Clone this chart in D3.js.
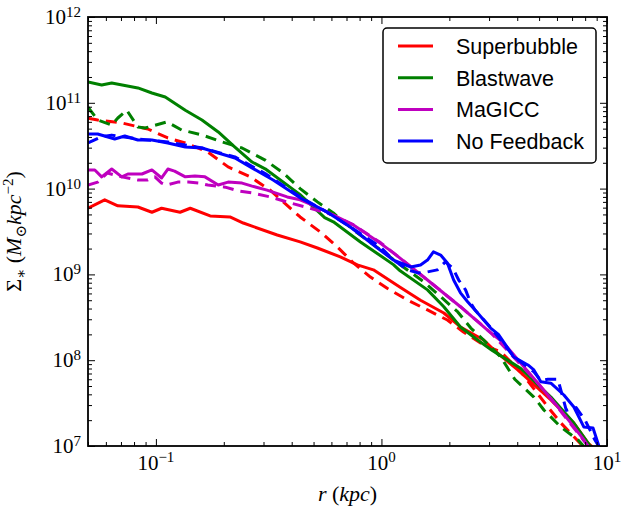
<!DOCTYPE html>
<html>
<head>
<meta charset="utf-8">
<script src="https://cdn.jsdelivr.net/npm/d3@7"></script>
<style>
  body { margin: 0; background: #fff; }
  svg { display: block; }
  .serif { font-family: 'Liberation Serif', 'DejaVu Serif', serif; fill: #000; }
  .legend-text { font-family: 'Liberation Sans', Arial, sans-serif; font-size: 21.5px; fill: #000; }
  .tick line { stroke: #000; stroke-width: 1; }
</style>
</head>
<body>
<div id="chart"></div>
<script>
// Plot constants
let width = 622
let height = 510
let margin = {t: 17, r: 15, b: 64, l: 88}
let plotW = width - margin.l - margin.r
let plotH = height - margin.t - margin.b

// Radius (kpc) and surface density (Msun / kpc^2)
// Superbubble
let sbSolid = [[0.05,5.9e9],[0.0593,7.4e9],[0.0678,6.3e9],[0.0832,6.1e9],[0.096,5.3e9],[0.106,5.9e9],[0.128,5.3e9],[0.142,5.9e9],[0.174,4.8e9],[0.213,4.67e9],[0.244,3.97e9],[0.345,2.88e9],[0.436,2.39e9],[0.52,2.03e9],[0.657,1.6e9],[0.782,1.29e9],[0.921,1.13e9],[1.21,7.1e8],[1.49,5.0e8],[1.89,3.55e8],[2.24,2.44e8],[2.84,1.72e8],[3.15,1.32e8],[4.02,7.7e7],[5.64,3.44e7],[7.13,1.85e7],[8.24,1.08e7],[8.93,9.0e6]]
let sbDashed = [[0.05,6.6e10],[0.0552,6.3e10],[0.0706,5.82e10],[0.0921,4.95e10],[0.113,3.89e10],[0.135,3.4e10],[0.17,2.67e10],[0.209,1.79e10],[0.262,1.37e10],[0.321,9.6e9],[0.367,7.0e9],[0.436,4.67e9],[0.536,3.12e9],[0.637,2.09e9],[0.751,1.36e9],[0.894,9.3e8],[1.06,6.9e8],[1.31,5.0e8],[1.6,3.85e8],[1.96,2.94e8],[2.31,2.13e8],[2.84,1.5e8],[3.38,1.25e8],[4.15,7.3e7],[5.47,2.85e7],[6.25,1.85e7],[7.9,9.7e6],[8.2,9e6]]
// Blastwave
let bwSolid = [[0.05,1.75e11],[0.0575,1.61e11],[0.0637,1.7e11],[0.0832,1.49e11],[0.096,1.3e11],[0.11,1.17e11],[0.135,8.2e10],[0.16,6.3e10],[0.189,4.57e10],[0.224,3.05e10],[0.267,2.04e10],[0.305,1.7e10],[0.436,8.5e9],[0.56,4.6e9],[0.612,4.1e9],[0.807,2.39e9],[1.13,1.3e9],[1.21,1.1e9],[1.6,6.6e8],[1.89,4.2e8],[2.24,2.44e8],[2.67,1.72e8],[3.1,1.3e8],[4.15,8.0e7],[5.64,3.72e7],[7.13,1.85e7],[8.49,9.7e6],[8.7,9e6]]
let bwDashed = [[0.05,8.9e10],[0.0552,6.3e10],[0.0637,5.51e10],[0.0678,6.65e10],[0.0743,8.2e10],[0.0832,5.22e10],[0.0894,5.08e10],[0.112,5.98e10],[0.13,4.82e10],[0.16,4.22e10],[0.197,3.49e10],[0.241,2.97e10],[0.305,2.15e10],[0.367,1.52e10],[0.436,1.0e10],[0.52,7.0e9],[0.612,5.2e9],[0.75,3.3e9],[1.0,1.9e9],[1.25,1.22e9],[1.54,8.2e8],[1.83,5.5e8],[2.18,3.65e8],[2.49,2.37e8],[2.84,1.72e8],[3.38,1.09e8],[3.9,6.0e7],[4.74,3.72e7],[5.25,2.63e7],[6.25,1.66e7],[7.43,1.18e7],[8.0,9.5e6],[8.3,9e6]]
// MaGICC
let mgSolid = [[0.05,1.65e10],[0.0536,1.65e10],[0.0575,1.37e10],[0.0637,1.69e10],[0.0706,1.37e10],[0.0751,1.48e10],[0.0867,1.48e10],[0.096,1.65e10],[0.106,1.33e10],[0.113,1.69e10],[0.121,1.6e10],[0.135,1.37e10],[0.149,1.4e10],[0.165,1.37e10],[0.189,1.1e10],[0.209,1.19e10],[0.241,1.16e10],[0.267,1.07e10],[0.311,9.6e9],[0.382,8.0e9],[0.436,7.4e9],[0.52,6.1e9],[0.612,4.9e9],[0.751,3.77e9],[0.99,2.3e9],[1.13,1.78e9],[1.6,8.6e8],[2.24,4.2e8],[3.05,2.08e8],[3.48,1.59e8],[4.94,5.4e7],[6.06,2.85e7],[6.92,1.85e7],[7.9,1.18e7],[8.3,9.5e6]]
let mgDashed = [[0.05,1.1e10],[0.0552,1.19e10],[0.061,1.52e10],[0.0706,1.37e10],[0.0832,1.26e10],[0.0921,1.26e10],[0.099,1.37e10],[0.106,1.16e10],[0.111,1.1e10],[0.125,1.19e10],[0.139,1.19e10],[0.155,1.16e10],[0.17,1.1e10],[0.203,1.04e10],[0.232,9.4e9],[0.267,8.9e9],[0.321,8.0e9],[0.394,6.8e9],[0.483,5.9e9],[0.612,4.9e9],[0.751,3.77e9],[0.99,2.35e9],[1.6,8.6e8],[2.24,4.2e8],[3.05,2.1e8],[4.94,5.4e7],[6.06,2.8e7],[7.9,1.15e7],[8.4,9.5e6]]
// No Feedback
let nfSolid = [[0.05,4.33e10],[0.0552,4.33e10],[0.0657,3.79e10],[0.0728,4.1e10],[0.0832,3.68e10],[0.096,3.68e10],[0.113,3.4e10],[0.135,3.05e10],[0.16,2.97e10],[0.189,2.6e10],[0.224,2.27e10],[0.262,1.79e10],[0.331,1.26e10],[0.436,7.8e9],[0.575,5.3e9],[0.728,3.57e9],[0.96,2.03e9],[1.13,1.47e9],[1.35,1.22e9],[1.49,1.29e9],[1.6,1.47e9],[1.7,1.83e9],[1.83,1.68e9],[1.96,1.36e9],[2.09,8.6e8],[2.24,6.1e8],[2.41,4.8e8],[2.67,3.55e8],[3.05,2.37e8],[3.3,2.0e8],[3.86,1.09e8],[4.46,8.8e7],[4.74,7.7e7],[5.09,5.6e7],[5.64,5.4e7],[6.44,3.93e7],[7.13,2.85e7],[7.9,1.66e7],[8.67,1.62e7],[9.12,1.08e7],[9.3,9e6]]
let nfDashed = [[0.05,3.4e10],[0.057,4.0e10],[0.0637,4.2e10],[0.0832,3.79e10],[0.113,3.5e10],[0.16,2.97e10],[0.224,2.34e10],[0.305,1.5e10],[0.436,8.0e9],[0.575,5.3e9],[0.728,3.57e9],[0.99,2.09e9],[1.13,1.47e9],[1.31,1.13e9],[1.45,1.04e9],[1.6,1.07e9],[1.77,1.13e9],[1.92,1.4e9],[2.07,1.19e9],[2.2,8.6e8],[2.36,6.6e8],[2.49,4.6e8],[2.6,3.85e8],[3.05,2.4e8],[3.86,1.1e8],[4.74,7.3e7],[5.09,5.8e7],[5.47,6.0e7],[6.06,6.0e7],[6.6,2.6e7],[7.3,2.8e7],[8.0,2.0e7],[8.8,1.2e7],[9.4,9e6]]

// Series names and colours
let seriesNames = ['Superbubble', 'Blastwave', 'MaGICC', 'No Feedback']
let seriesColors = ['#ff0000', '#008000', '#bf00bf', '#0000ff']
let seriesSolid = [sbSolid, bwSolid, mgSolid, nfSolid]
let seriesDashed = [sbDashed, bwDashed, mgDashed, nfDashed]

// Axis tick labels
let xMajor = [0.1, 1, 10]
let xExp = ['\u22121', '0', '1']
let yMajor = [1e7, 1e8, 1e9, 1e10, 1e11, 1e12]
let yExp = ['7', '8', '9', '10', '11', '12']

let svg = d3.select('#chart').append('svg')
  .attr('width', width)
  .attr('height', height)

let g = svg.append('g')
  .attr('transform', `translate(${margin.l},${margin.t})`)

let x = d3.scaleLog().domain([0.05, 10]).range([0, plotW])
let y = d3.scaleLog().domain([1e7, 1e12]).range([plotH, 0])

g.append('defs').append('clipPath')
  .attr('id', 'clip')
  .append('rect')
  .attr('width', plotW)
  .attr('height', plotH)

// Curves
let line = d3.line()
  .x(d => x(d[0]))
  .y(d => y(d[1]))

let curves = g.append('g').attr('clip-path', 'url(#clip)')
for (let i = 0; i < seriesNames.length; i++) {
  curves.append('path')
    .attr('d', line(seriesSolid[i]))
    .attr('fill', 'none')
    .attr('stroke', seriesColors[i])
    .attr('stroke-width', 3)
    .attr('stroke-linejoin', 'round')
  curves.append('path')
    .attr('d', line(seriesDashed[i]))
    .attr('fill', 'none')
    .attr('stroke', seriesColors[i])
    .attr('stroke-width', 3)
    .attr('stroke-dasharray', '11,7')
    .attr('stroke-linejoin', 'round')
}

// Ticks (all pointing inwards, on all four sides)
let isMajor = v => Math.abs(Math.log10(v) - Math.round(Math.log10(v))) < 1e-6
let xMinor = x.ticks().filter(v => !isMajor(v))
let yMinor = y.ticks().filter(v => !isMajor(v))

function addAxis(axis, transform) {
  let a = g.append('g').attr('transform', transform).call(axis)
  a.select('.domain').remove()
  a.selectAll('text').remove()
}

addAxis(d3.axisBottom(x).tickValues(xMajor).tickSize(-7), `translate(0,${plotH})`)
addAxis(d3.axisBottom(x).tickValues(xMinor).tickSize(-4), `translate(0,${plotH})`)
addAxis(d3.axisTop(x).tickValues(xMajor).tickSize(-7), 'translate(0,0)')
addAxis(d3.axisTop(x).tickValues(xMinor).tickSize(-4), 'translate(0,0)')
addAxis(d3.axisLeft(y).tickValues(yMajor).tickSize(-7), 'translate(0,0)')
addAxis(d3.axisLeft(y).tickValues(yMinor).tickSize(-4), 'translate(0,0)')
addAxis(d3.axisRight(y).tickValues(yMajor).tickSize(-7), `translate(${plotW},0)`)
addAxis(d3.axisRight(y).tickValues(yMinor).tickSize(-4), `translate(${plotW},0)`)

// Frame
g.append('rect')
  .attr('width', plotW)
  .attr('height', plotH)
  .attr('fill', 'none')
  .attr('stroke', '#000')
  .attr('stroke-width', 1.8)

// Tick labels
xMajor.forEach(function(v, i) {
  let t = g.append('text')
    .attr('class', 'serif')
    .attr('x', x(v))
    .attr('y', plotH + 24)
    .attr('text-anchor', 'middle')
    .style('font-size', '21px')
  t.append('tspan').text('10')
  t.append('tspan').attr('dy', -8).style('font-size', '15px').text(xExp[i])
})

yMajor.forEach(function(v, i) {
  let t = g.append('text')
    .attr('class', 'serif')
    .attr('x', -7)
    .attr('y', y(v) + 7)
    .attr('text-anchor', 'end')
    .style('font-size', '21px')
  t.append('tspan').text('10')
  t.append('tspan').attr('dy', -7).style('font-size', '15px').text(yExp[i])
})

// Axis titles
let xt = svg.append('text')
  .attr('class', 'serif')
  .attr('x', margin.l + plotW / 2)
  .attr('y', 501)
  .attr('text-anchor', 'middle')
  .style('font-size', '22px')
xt.append('tspan').style('font-style', 'italic').text('r')
xt.append('tspan').text('\u00a0(')
xt.append('tspan').style('font-style', 'italic').text('kpc')
xt.append('tspan').text(')')

let yt = svg.append('text')
  .attr('class', 'serif')
  .attr('transform', `translate(21,${margin.t + plotH / 2}) rotate(-90)`)
  .attr('text-anchor', 'middle')
  .style('font-size', '22px')
yt.append('tspan').text('\u03a3')
yt.append('tspan').attr('dy', 5).style('font-size', '15px').text('\u2217')
yt.append('tspan').attr('dy', -5).text('\u00a0(')
yt.append('tspan').style('font-style', 'italic').text('M')
yt.append('tspan').attr('dy', 5).style('font-size', '15px').text('\u2299')
yt.append('tspan').attr('dy', -5).style('font-style', 'italic').text('kpc')
yt.append('tspan').attr('dy', -8).style('font-size', '15px').text('\u22122')
yt.append('tspan').attr('dy', 8).text(')')

// Legend
let legend = svg.append('g')
legend.append('rect')
  .attr('x', 383)
  .attr('y', 28)
  .attr('width', 213)
  .attr('height', 135)
  .attr('rx', 4)
  .attr('fill', '#fff')
  .attr('stroke', '#000')
  .attr('stroke-width', 1.5)

seriesNames.forEach(function(name, i) {
  let rowY = 46 + i * 31.7
  legend.append('line')
    .attr('x1', 398).attr('x2', 433)
    .attr('y1', rowY).attr('y2', rowY)
    .attr('stroke', seriesColors[i])
    .attr('stroke-width', 3)
  legend.append('text')
    .attr('class', 'legend-text')
    .attr('x', 456)
    .attr('y', rowY + 8)
    .text(name)
})
</script>
</body>
</html>
